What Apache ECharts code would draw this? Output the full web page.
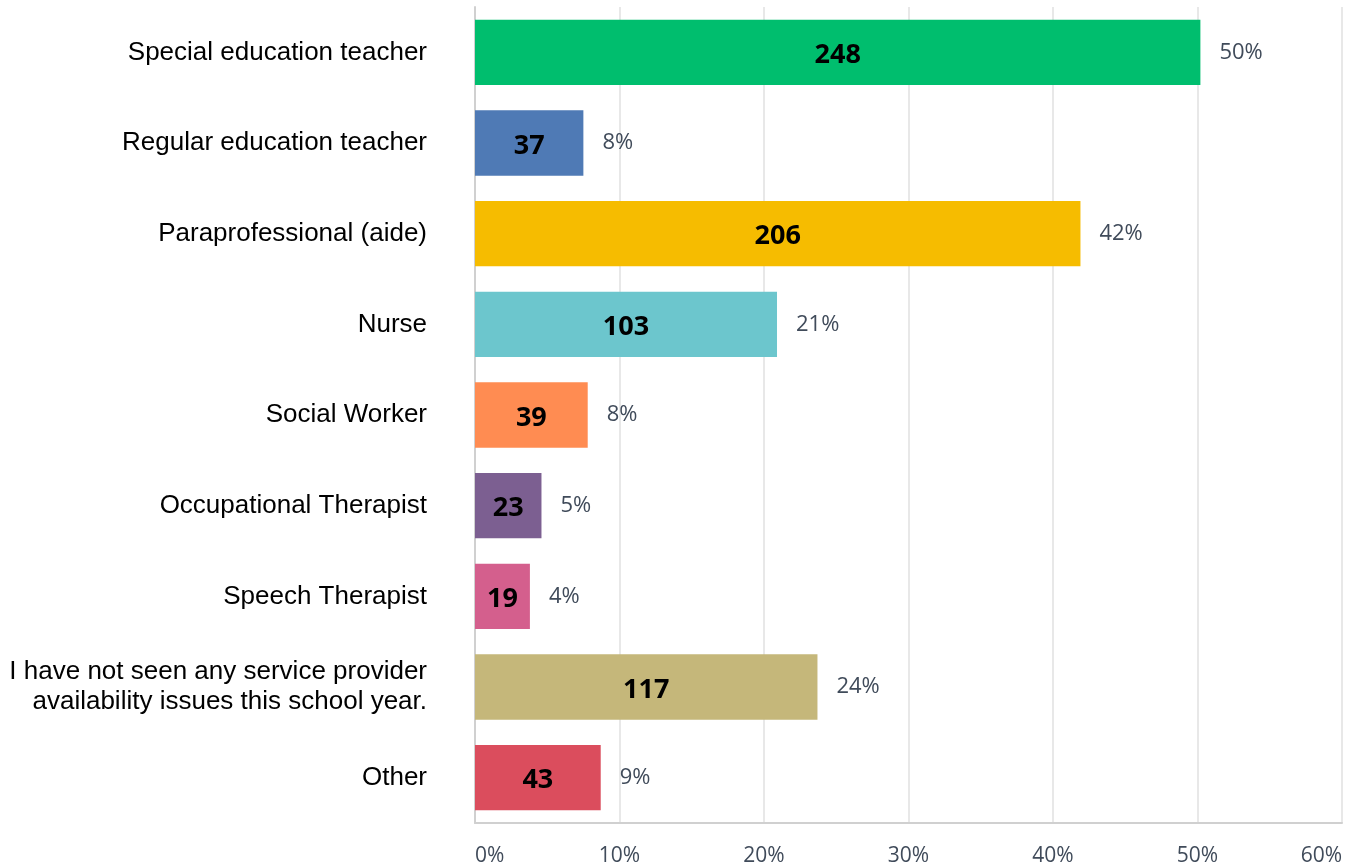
<!DOCTYPE html>
<html>
<head>
<meta charset="utf-8">
<title>Service provider availability</title>
<script src="https://cdn.jsdelivr.net/npm/echarts@6/dist/echarts.min.js"></script>
<style>
  html, body { margin: 0; padding: 0; background: #fff; }
  #chart { width: 1348px; height: 867px; }
</style>
</head>
<body>
<div id="chart"></div>
<script>
// categories, top to bottom
var categories = [
  'Special education teacher',
  'Regular education teacher',
  'Paraprofessional (aide)',
  'Nurse',
  'Social Worker',
  'Occupational Therapist',
  'Speech Therapist',
  'I have not seen any service provider\navailability issues this school year.',
  'Other'
];
// respondent counts (shown inside bars)
var counts = [248, 37, 206, 103, 39, 23, 19, 117, 43];
// share of respondents in % (bar length)
var percents = [50.2, 7.5, 41.9, 20.9, 7.8, 4.6, 3.8, 23.7, 8.7];
// percent labels as printed next to the bars
var percentLabels = ['50%', '8%', '42%', '21%', '8%', '5%', '4%', '24%', '9%'];
var barColors = ['#00be6e', '#4f7ab5', '#f6bc00', '#6cc6cd', '#ff8c52', '#7c5f91', '#d45f8d', '#c5b77a', '#db4d5d'];
// x axis ticks
var xTicks = [0, 10, 20, 30, 40, 50, 60];

var chart = echarts.init(document.getElementById('chart'));

var option = {
  animation: false,
  grid: {
    left: 475,
    right: 6,
    top: 7,
    bottom: 44,
    containLabel: false,
    outerBoundsMode: 'none'
  },
  xAxis: {
    type: 'value',
    min: xTicks[0],
    max: xTicks[xTicks.length - 1],
    interval: 10,
    axisLine: { show: true, lineStyle: { color: '#d0d0d0', width: 2 } },
    axisTick: { show: false },
    splitLine: { show: true, lineStyle: { color: '#e8e8e8', width: 2 } },
    axisLabel: {
      margin: 23,
      fontFamily: 'Open Sans',
      fontSize: 21,
      color: '#404b5a',
      alignMinLabel: 'left',
      alignMaxLabel: 'right',
      formatter: function (v) { return v + '%'; }
    }
  },
  yAxis: {
    type: 'category',
    inverse: true,
    data: categories,
    axisLine: { show: true, lineStyle: { color: '#d0d0d0', width: 2 } },
    axisTick: { show: false },
    axisLabel: {
      margin: 48,
      fontFamily: 'Liberation Sans, Arial',
      fontSize: 26,
      lineHeight: 30,
      color: '#000',
      align: 'right'
    }
  },
  series: [
    {
      type: 'bar',
      barCategoryGap: '28%',
      data: percents.map(function (v, i) {
        return { value: v, itemStyle: { color: barColors[i] } };
      }),
      label: {
        show: true,
        position: 'inside',
        offset: [0, 3],
        fontFamily: 'Open Sans',
        fontWeight: 'bold',
        fontSize: 27,
        color: '#000',
        formatter: function (p) { return counts[p.dataIndex]; }
      },
      z: 3
    },
    {
      // transparent copy only to carry the outside percent labels
      type: 'bar',
      barGap: '-100%',
      barCategoryGap: '28%',
      silent: true,
      data: percents,
      itemStyle: { color: 'rgba(0,0,0,0)' },
      label: {
        show: true,
        position: 'right',
        distance: 19,
        fontFamily: 'Open Sans',
        fontSize: 22,
        color: '#404b5a',
        formatter: function (p) { return percentLabels[p.dataIndex]; }
      },
      z: 2
    }
  ]
};

chart.setOption(option);
</script>
</body>
</html>
